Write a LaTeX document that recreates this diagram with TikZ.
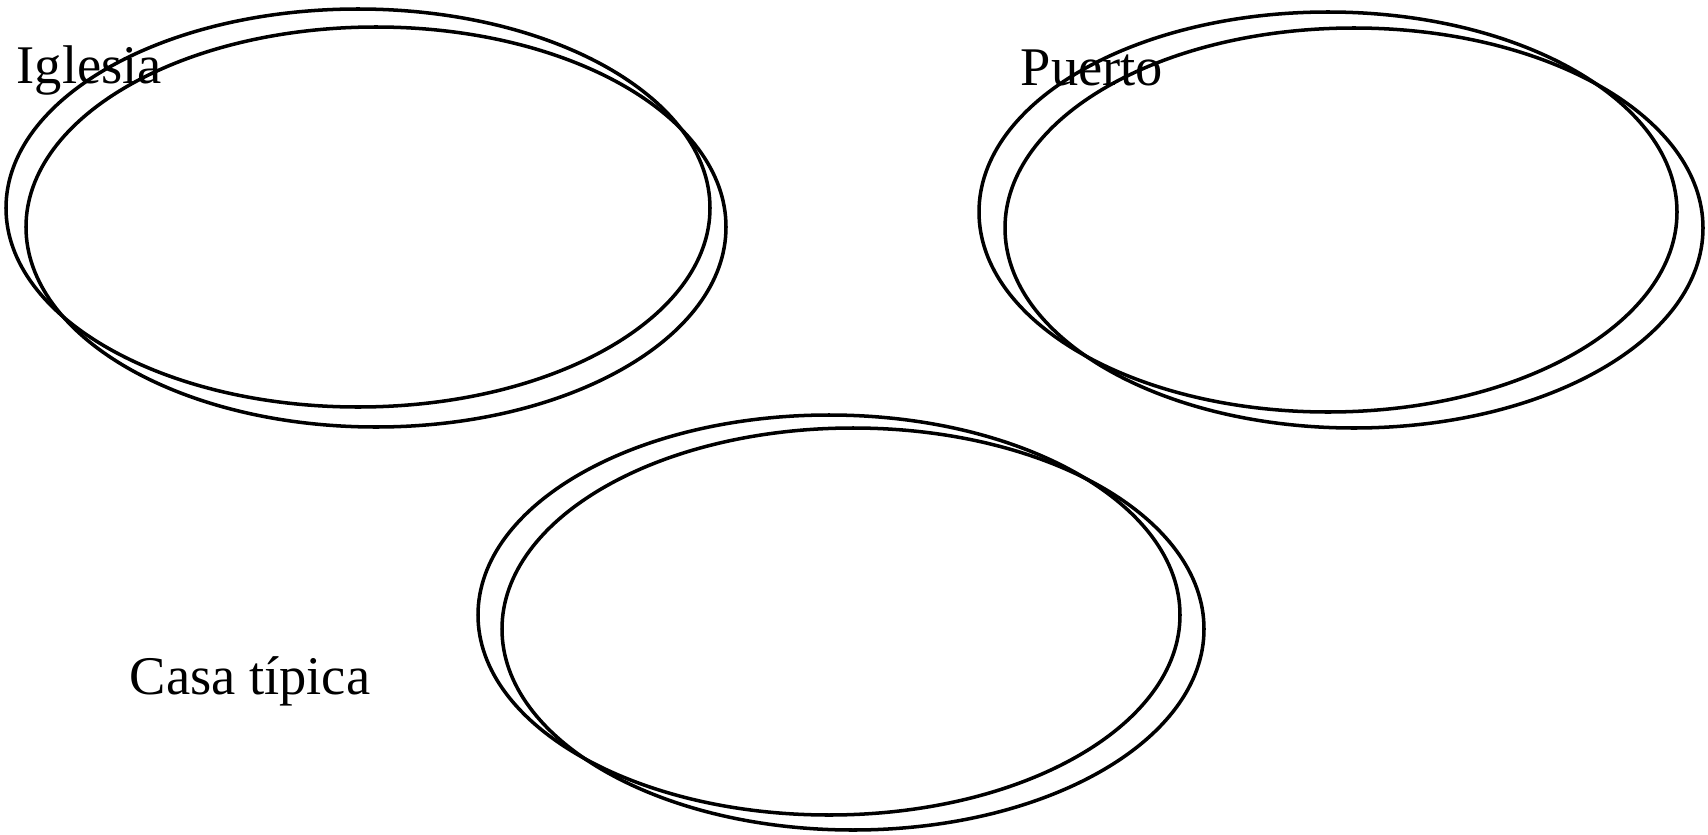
\documentclass[tikz,border=0pt]{standalone}
\usepackage{fontspec}
\setmainfont{Liberation Serif}

\begin{document}
\begin{tikzpicture}[x=0.02cm,y=-0.02cm,line width=2pt,
  placename/.style={anchor=base west,inner sep=0pt,font=\fontsize{31}{37}\selectfont}]
\useasboundingbox (0,0) rectangle (1708,835);
\draw (358,208) ellipse (352 and 199); \draw (376,227) ellipse (350 and 200);
\node[placename] (iglesia) at (15,83) {Iglesia};
\draw (1328,212) ellipse (349 and 200); \draw (1354,228) ellipse (349 and 200);
\node[placename] (puerto) at (1019,85) {Puerto};
\draw (829,615) ellipse (351 and 200); \draw (853,629) ellipse (351 and 201);
\node[placename] (casa) at (128,694) {Casa típica};
\end{tikzpicture}
\end{document}
